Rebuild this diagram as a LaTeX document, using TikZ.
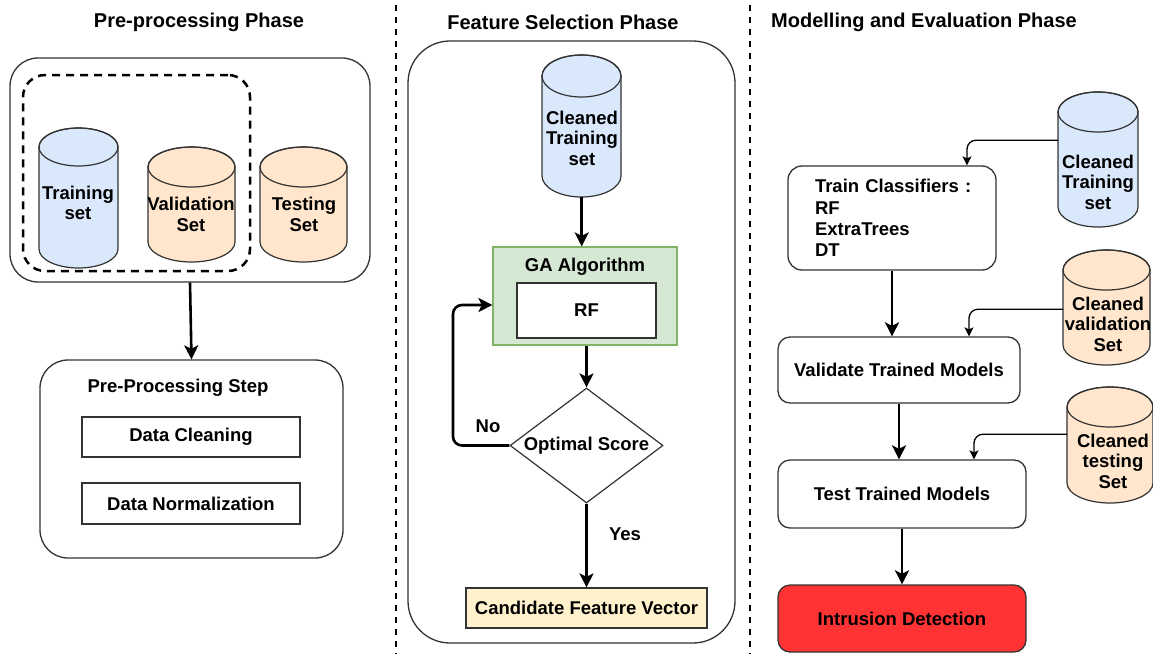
\documentclass[tikz,border=0pt]{standalone}
\usepackage{fontspec}
\setmainfont{Liberation Sans}
\usetikzlibrary{arrows.meta,shapes.geometric}
\definecolor{dbblue}{HTML}{DAE8FC}
\definecolor{dborange}{HTML}{FFE6CC}
\definecolor{gafill}{HTML}{D5E8D4}
\definecolor{gaedge}{HTML}{82B366}
\definecolor{candfill}{HTML}{FFF2CC}
\definecolor{alarmred}{HTML}{FF3333}
\definecolor{edge}{HTML}{333333}

\tikzset{
  txt/.style={font=\fontsize{18.5}{20.5}\selectfont\bfseries, text=black, inner sep=0pt},
  ttl/.style={font=\fontsize{20}{22}\selectfont\bfseries, text=black, inner sep=0pt},
  panel/.style={draw=edge, line width=1.3pt, rounded corners=28pt, inner sep=0pt},
  plainbox/.style={draw=edge, line width=1.2pt, inner sep=0pt, txt},
  cylline/.style={draw=edge, line width=1.2pt},
  flow/.style={line width=2.6pt, -{Stealth[length=14pt,width=14pt,inset=3.5pt]}},
  feed/.style={line width=1.3pt, rounded corners=9pt, -{Stealth[length=9pt,width=9pt,inset=2pt]}},
  sep/.style={line width=2.4pt, dash pattern=on 6pt off 6pt},
}

% database cylinder: name, left, top, width, height, ellipse half-height, fill
\newcommand\dbcyl[7]{%
  \path[cylline, fill=#7] (#2,{#3+#6}) -- (#2,{#3+#5-#6})
     arc[start angle=180, end angle=360, x radius={#4/2*1pt}, y radius={#6*1pt}]
     -- ({#2+#4},{#3+#6})
     arc[start angle=0, end angle=180, x radius={#4/2*1pt}, y radius={#6*1pt}] -- cycle;
  \draw[cylline] ({#2+#4/2},{#3+#6}) ellipse[x radius={#4/2*1pt}, y radius={#6*1pt}];
  \node[inner sep=0pt, minimum width={#4*1pt}, minimum height={#5*1pt}, anchor=north west] (#1) at (#2,#3) {};
}

\begin{document}
\begin{tikzpicture}[x=1pt, y=-1pt]
\useasboundingbox (0,0) rectangle (1153,654);

% phase separators
\draw[sep] (396,5) -- (396,654);
\draw[sep] (750,5) -- (750,654);

% phase titles
\node[ttl] (t1) at (199,22) {Pre-processing Phase};
\node[ttl] (t2) at (563,22) {Feature Selection Phase};
\node[ttl] (t3) at (924,22) {Modelling and Evaluation Phase};

% ---------------- pre-processing ----------------
\node[panel, minimum width=360pt, minimum height=224pt] (dsets) at (190,170) {};
\node[draw=black, line width=2.5pt, dash pattern=on 8pt off 6pt, rounded corners=22pt,
      minimum width=227pt, minimum height=196pt, inner sep=0pt] (split) at (136.5,173) {};

\dbcyl{trainL}{39}{128}{79}{140}{19}{dbblue}
\node[txt, align=center] (trainL-t) at (78,203) {Training\\set};
\dbcyl{valL}{148}{147}{87}{115}{20}{dborange}
\node[txt, align=center] (valL-t) at (191,214.5) {Validation\\Set};
\dbcyl{testL}{260}{147}{87}{115}{20}{dborange}
\node[txt, align=center] (testL-t) at (304,214.5) {Testing\\Set};

\node[panel, minimum width=303pt, minimum height=198pt] (prep) at (191.5,459) {};
\node[txt] (prep-t) at (178,388) {Pre-Processing Step};
\node[plainbox, minimum width=218pt, minimum height=40pt] (clean) at (191,437) {Data Cleaning};
\node[plainbox, minimum width=218pt, minimum height=41pt] (norm) at (191,503.5) {Data Normalization};

\draw[flow] (dsets.south) -- (prep.north);

% ---------------- feature selection ----------------
\node[panel, rounded corners=42pt, minimum width=327pt, minimum height=602pt] (fsel) at (571.5,342) {};
\dbcyl{ctrM}{542}{55}{79}{142}{21}{dbblue}
\node[txt, align=center] (ctrM-t) at (582,138) {Cleaned\\Training\\set};

\node[draw=gaedge, fill=gafill, line width=1.2pt, inner sep=0pt,
      minimum width=184pt, minimum height=98pt] (ga) at (585,296) {};
\node[txt] (ga-t) at (585,267) {GA Algorithm};
\node[plainbox, fill=white, minimum width=139pt, minimum height=55pt] (rf) at (586.5,310.5) {RF};

\node[draw=edge, line width=1.2pt, diamond, aspect=1.33, minimum width=153pt,
      minimum height=115pt, inner sep=0pt, txt] (opt) at (586.5,445.5) {Optimal Score};

\node[plainbox, draw=edge, fill=candfill, minimum width=241pt, minimum height=40pt] (cand) at (586.5,608) {Candidate Feature Vector};

\draw[flow] (ctrM.south) -- (ctrM.south |- ga.north);
\draw[flow] (ga.south -| opt.north) -- (opt.north);
\coordinate (loop) at (453,445.5);
\draw[flow, rounded corners=9pt] (opt.west) -- (loop) |- ([yshift=-9pt]ga.west);
\node[txt] (no) at (488,426) {No};
\draw[flow] (opt.south) -- (cand.north);
\node[txt] (yes) at (625,534) {Yes};

% ---------------- modelling and evaluation ----------------
\dbcyl{ctrR}{1058}{92}{80}{135}{20}{dbblue}
\node[txt, align=center] (ctrR-t) at (1098,182) {Cleaned\\Training\\set};
\dbcyl{cvalR}{1063}{250}{87}{115}{20}{dborange}
\node[txt, align=center] (cvalR-t) at (1108,324) {Cleaned\\validation\\Set};
\dbcyl{ctestR}{1067}{387}{86}{116}{20}{dborange}
\node[txt, align=center] (ctestR-t) at (1113,461) {Cleaned\\testing\\Set};

\node[panel, rounded corners=14pt, minimum width=208pt, minimum height=104pt,
      txt, font=\fontsize{18.5}{21.3}\selectfont\bfseries, inner xsep=27pt,
      text width=154pt, align=left] (train) at (892,218)
      {\mbox{Train Classifiers :}\\RF\\ExtraTrees\\DT};
\node[panel, rounded corners=12pt, minimum width=242pt, minimum height=66pt, txt] (valid) at (899,370) {Validate Trained Models};
\node[panel, rounded corners=12pt, minimum width=248pt, minimum height=68pt, txt] (test) at (902,494) {Test Trained Models};
\node[panel, rounded corners=12pt, fill=alarmred, minimum width=248pt, minimum height=67pt, txt] (intr) at (902,618.5) {Intrusion Detection};

\draw[flow] (train.south) -- (train.south |- valid.north);
\draw[flow] (valid.south) -- (valid.south |- test.north);
\draw[flow] (test.south) -- (intr.north);

\draw[feed] ([yshift=19.5pt]ctrR.west) -| ([xshift=75pt]train.north);
\draw[feed] ([yshift=-1.5pt]cvalR.west) -| ([xshift=70pt]valid.north);
\draw[feed] ([yshift=11pt]ctestR.west) -| ([xshift=72pt]test.north);

\end{tikzpicture}
\end{document}
